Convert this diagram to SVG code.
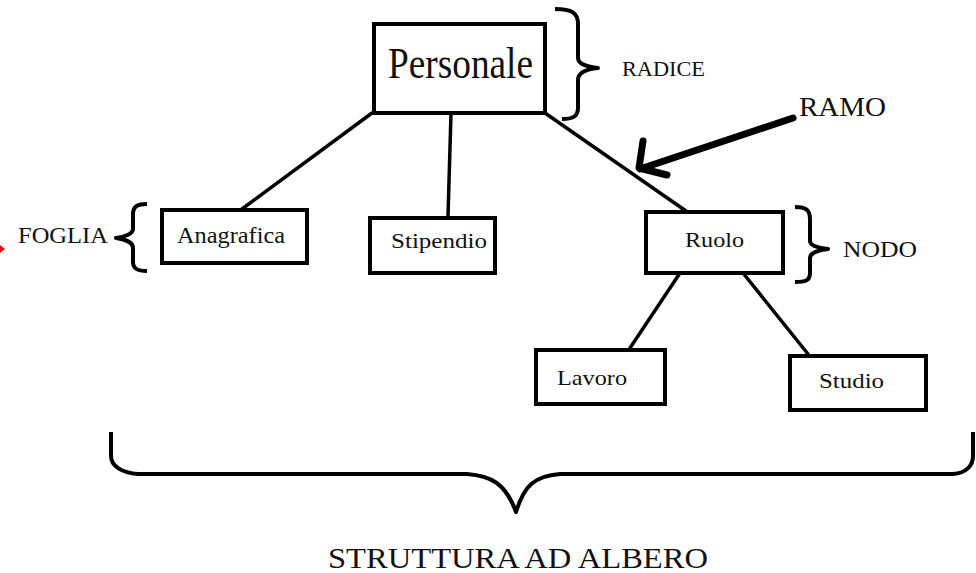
<svg xmlns="http://www.w3.org/2000/svg" width="976" height="573" viewBox="0 0 976 573">
  <style>
    .box { fill: #ffffff; stroke: #000000; stroke-width: 4; }
    text { font-family: 'Liberation Serif', 'Times New Roman', Times, 'DejaVu Serif', serif; fill: #111111; }
    .edge { stroke: #000000; stroke-width: 3.5; fill: none; stroke-linecap: round; }
    .brace { stroke: #000000; stroke-width: 4; fill: none; stroke-linecap: butt; stroke-linejoin: round; }
  </style>

  <rect width="976" height="573" fill="#ffffff"/>

  <!-- tree branches -->
  <g id="connectors">
    <line class="edge" x1="372" y1="113" x2="242" y2="209"/>
    <line class="edge" x1="451" y1="113" x2="448" y2="216"/>
    <line class="edge" x1="545" y1="113" x2="686" y2="211"/>
    <line class="edge" x1="680" y1="273" x2="630" y2="348"/>
    <line class="edge" x1="743" y1="273" x2="808" y2="354"/>
  </g>

  <!-- nodes -->
  <g id="node-personale">
    <rect class="box" x="374" y="24" width="171" height="89"/>
    <text x="388" y="78" font-family="Liberation Serif, serif" font-size="44" textLength="145" lengthAdjust="spacingAndGlyphs">Personale</text>
  </g>
  <g id="node-anagrafica">
    <rect class="box" x="162" y="210" width="145" height="53"/>
    <text x="177" y="243" font-family="Liberation Serif, serif" font-size="23" textLength="108" lengthAdjust="spacingAndGlyphs">Anagrafica</text>
  </g>
  <g id="node-stipendio">
    <rect class="box" x="370" y="218" width="125" height="55"/>
    <text x="391" y="248" font-family="Liberation Serif, serif" font-size="22" textLength="96" lengthAdjust="spacingAndGlyphs">Stipendio</text>
  </g>
  <g id="node-ruolo">
    <rect class="box" x="646" y="212" width="137" height="61"/>
    <text x="685" y="247" font-family="Liberation Serif, serif" font-size="21" textLength="59" lengthAdjust="spacingAndGlyphs">Ruolo</text>
  </g>
  <g id="node-lavoro">
    <rect class="box" x="536" y="350" width="129" height="54"/>
    <text x="557" y="385" font-family="Liberation Serif, serif" font-size="22" textLength="70" lengthAdjust="spacingAndGlyphs">Lavoro</text>
  </g>
  <g id="node-studio">
    <rect class="box" x="790" y="356" width="136" height="54"/>
    <text x="819" y="388" font-family="Liberation Serif, serif" font-size="22" textLength="65" lengthAdjust="spacingAndGlyphs">Studio</text>
  </g>

  <!-- annotations: braces and labels -->
  <g id="note-radice">
    <path class="brace" d="M555,9 C572,9 578,13 578,24 L578,58 C578,64 588,67 598,68 C588,69 578,72 578,80 L578,108 C578,117 572,119 562,119"/>
    <text x="622" y="76" font-family="Liberation Serif, serif" font-size="20" textLength="83" lengthAdjust="spacingAndGlyphs">RADICE</text>
  </g>
  <g id="note-foglia">
    <path class="brace" d="M147,204 C138,204 133,206 133,214 L133,229 C133,234 124,237 116,238 C124,239 133,242 133,248 L133,262 C133,269 138,271 147,271"/>
    <text x="18" y="243" font-family="Liberation Serif, serif" font-size="23" textLength="90" lengthAdjust="spacingAndGlyphs">FOGLIA</text>
    <polygon points="0,245 5,249 0,253" fill="#e01010"/>
  </g>
  <g id="note-nodo">
    <path class="brace" d="M795,207 C806,207 810,210 810,219 L810,241 C810,246 819,248 828,249 C819,250 810,253 810,258 L810,273 C810,281 805,282 795,282"/>
    <text x="843" y="257" font-family="Liberation Serif, serif" font-size="23" textLength="74" lengthAdjust="spacingAndGlyphs">NODO</text>
  </g>
  <g id="note-ramo">
    <path d="M793,118 L640,169 M643,141 L639,168 L667,175" stroke="#000000" stroke-width="7" fill="none" stroke-linecap="round" stroke-linejoin="round"/>
    <text x="799" y="116" font-family="Liberation Serif, serif" font-size="27" textLength="87" lengthAdjust="spacingAndGlyphs">RAMO</text>
  </g>
  <g id="note-struttura">
    <path class="brace" d="M111,432 L111,456 C111,466 122,473 138,474 L467,474 C490,476 505,482 516,512 C524,486 534,476 560,474 L953,474 C966,473 973,466 973,456 L973,432"/>
    <text x="328" y="568" font-family="Liberation Serif, serif" font-size="30" textLength="380" lengthAdjust="spacingAndGlyphs">STRUTTURA AD ALBERO</text>
  </g>
</svg>
